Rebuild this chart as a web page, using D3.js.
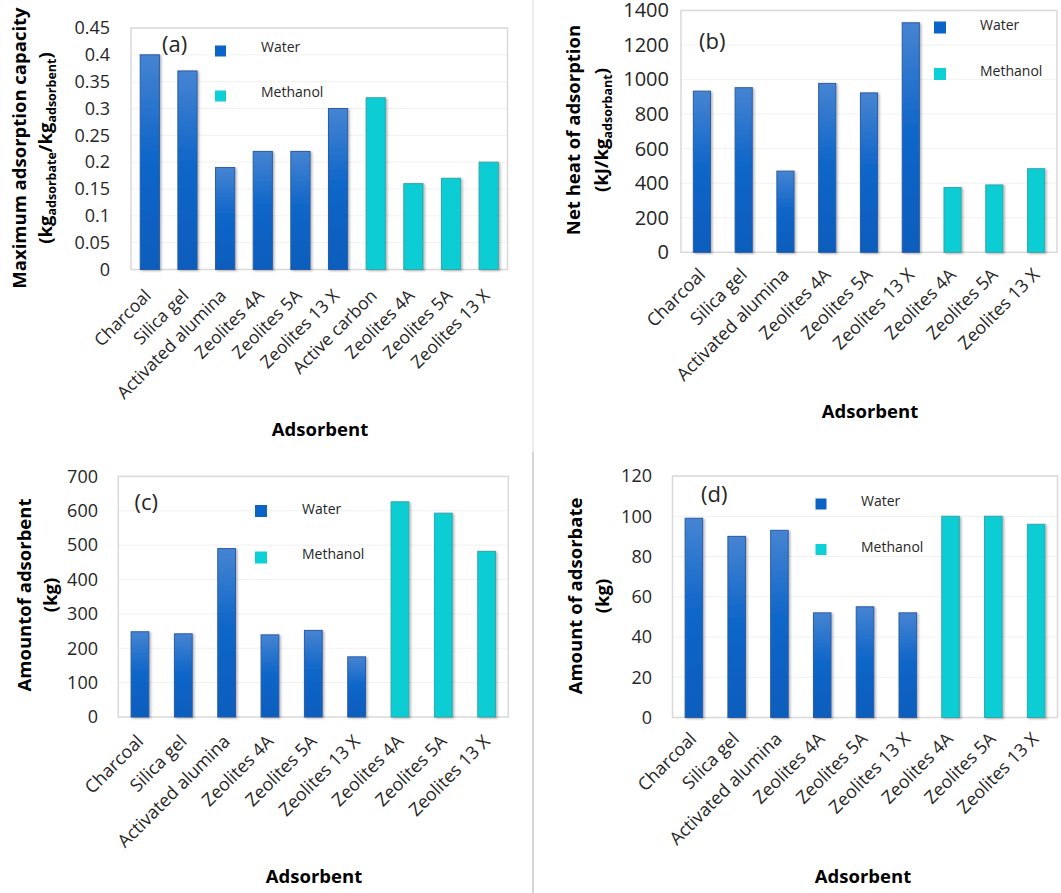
<!DOCTYPE html>
<html>
<head>
<meta charset="utf-8">
<script src="https://cdn.jsdelivr.net/npm/d3@7"></script>
<style>
  html, body { margin: 0; padding: 0; background: #fff; }
  svg { display: block; font-family: "Open Sans", "Noto Sans", sans-serif; }
</style>
</head>
<body>
<svg id="chart" width="1061" height="893"></svg>
<script>
// ---- data ----
const fluids = ["Water", "Methanol"];

// panel (a): maximum adsorption capacity
const capacityCategories = ["Charcoal", "Silica gel", "Activated alumina", "Zeolites 4A", "Zeolites 5A",
  "Zeolites 13 X", "Active carbon", "Zeolites 4A", "Zeolites 5A", "Zeolites 13 X"];
const capacityFluid = ["Water", "Water", "Water", "Water", "Water", "Water",
  "Methanol", "Methanol", "Methanol", "Methanol"];
const capacityValues = [0.40, 0.37, 0.19, 0.22, 0.22, 0.30, 0.32, 0.16, 0.17, 0.20];
const capacityTicks = [0, 0.05, 0.1, 0.15, 0.2, 0.25, 0.3, 0.35, 0.4, 0.45];

// panels (b), (c), (d) share the same adsorbents
const pairCategories = ["Charcoal", "Silica gel", "Activated alumina", "Zeolites 4A", "Zeolites 5A",
  "Zeolites 13 X", "Zeolites 4A", "Zeolites 5A", "Zeolites 13 X"];
const pairFluid = ["Water", "Water", "Water", "Water", "Water", "Water",
  "Methanol", "Methanol", "Methanol"];

const netHeatValues = [933, 953, 470, 978, 923, 1329, 375, 390, 484];
const netHeatTicks = [0, 200, 400, 600, 800, 1000, 1200, 1400];

const adsorbentMassValues = [248, 242, 490, 239, 252, 175, 626, 593, 482];
const adsorbentMassTicks = [0, 100, 200, 300, 400, 500, 600, 700];

const adsorbateMassValues = [99, 90, 93, 52, 55, 52, 100, 100, 96];
const adsorbateMassTicks = [0, 20, 40, 60, 80, 100, 120];

// ---- drawing ----
const svg = d3.select("#chart");
const defs = svg.append("defs");

const waterGrad = defs.append("linearGradient")
  .attr("id", "waterFill").attr("x1", 0).attr("y1", 0).attr("x2", 0).attr("y2", 1);
waterGrad.append("stop").attr("offset", "0%").attr("stop-color", "#4684d2");
waterGrad.append("stop").attr("offset", "45%").attr("stop-color", "#1167c9");
waterGrad.append("stop").attr("offset", "100%").attr("stop-color", "#085dbd");

const shadow = defs.append("filter").attr("id", "barShadow")
  .attr("x", "-30%").attr("y", "-10%").attr("width", "170%").attr("height", "130%");
shadow.append("feDropShadow").attr("dx", 1.5).attr("dy", 1).attr("stdDeviation", 1.3)
  .attr("flood-color", "#000").attr("flood-opacity", 0.3);

const fillFor = f => f === "Water" ? "url(#waterFill)" : "#0ccdd4";
const strokeFor = f => f === "Water" ? "#2b5ca6" : "#33a6aa";
const legendColor = { Water: "#0a63c6", Methanol: "#0dcfd6" };

// panel separator
svg.append("line").attr("x1", 533).attr("x2", 533).attr("y1", 0).attr("y2", 452)
  .attr("stroke", "#e6e6e6").attr("stroke-width", 1.5);
svg.append("line").attr("x1", 533).attr("x2", 533).attr("y1", 452).attr("y2", 893)
  .attr("stroke", "#d6d6d6").attr("stroke-width", 2);

function drawPanel(p) {
  const g = svg.append("g");
  const idx = p.values.map((_, i) => i);
  const x = d3.scaleBand().domain(idx).range([p.x0, p.x1]).padding(0);
  const y = d3.scaleLinear().domain([0, p.ymax]).range([p.y1, p.y0]);

  // gridlines
  g.append("g").selectAll("line").data(p.ticks.slice(1)).join("line")
    .attr("x1", p.x0).attr("x2", p.x1)
    .attr("y1", d => y(d)).attr("y2", d => y(d))
    .attr("stroke", "#f1f1f1").attr("stroke-width", 1);

  // frame
  g.append("rect").attr("x", p.x0).attr("y", p.y0)
    .attr("width", p.x1 - p.x0).attr("height", p.y1 - p.y0)
    .attr("fill", "none").attr("stroke", "#d9d9d9").attr("stroke-width", 1.5);

  // bars
  const bw = x.bandwidth() * p.barRatio;
  g.append("g").selectAll("rect").data(idx).join("rect")
    .attr("x", i => x(i) + (x.bandwidth() - bw) / 2)
    .attr("y", i => y(p.values[i]))
    .attr("width", bw)
    .attr("height", i => y(0) - y(p.values[i]))
    .attr("fill", i => fillFor(p.fluid[i]))
    .attr("stroke", i => strokeFor(p.fluid[i]))
    .attr("stroke-width", 1)
    .attr("filter", "url(#barShadow)");

  // y axis
  const yAxis = d3.axisLeft(y).tickValues(p.ticks).tickFormat(d3.format("~g"))
    .tickSize(0).tickPadding(p.x0 - p.tickRight);
  const ya = g.append("g").attr("transform", `translate(${p.x0},0)`).call(yAxis);
  ya.select(".domain").remove();
  ya.selectAll("text").attr("font-size", p.tickFont).attr("fill", "#262626")
    .attr("font-family", "Open Sans, sans-serif");

  // x axis labels, rotated
  const xAxis = d3.axisBottom(x).tickFormat(i => p.categories[i]).tickSize(0);
  const xa = g.append("g").attr("transform", `translate(0,${p.y1})`).call(xAxis);
  xa.select(".domain").remove();
  xa.selectAll("text")
    .attr("font-size", p.labelFont).attr("fill", "#262626")
    .attr("font-family", "Open Sans, sans-serif")
    .attr("text-anchor", "end")
    .attr("transform", `translate(${p.labelShift[0]},${p.labelShift[1]}) rotate(-45)`)
    .attr("x", 0).attr("y", 0).attr("dy", "0.75em");

  // axis titles
  const yt = g.append("g").attr("font-weight", "bold").attr("font-size", 18.5)
    .attr("fill", "#000").attr("text-anchor", "middle");
  yt.append("text").attr("transform", `translate(${p.title1x},${p.titleY}) rotate(-90)`)
    .attr("dy", "0.35em").text(p.title1);
  const t2 = yt.append("text").attr("transform", `translate(${p.title2x},${p.titleY}) rotate(-90)`)
    .attr("dy", "0.35em");
  let shifted = false;
  p.title2.forEach(part => {
    const s = t2.append("tspan").text(part.t);
    if (part.sub) {
      s.attr("font-size", 12.5);
      if (!shifted) { s.attr("dy", 4); shifted = true; }
    } else if (shifted) {
      s.attr("dy", -4); shifted = false;
    }
  });

  g.append("text").attr("x", p.xTitle[0]).attr("y", p.xTitle[1]).attr("dy", "0.35em")
    .attr("text-anchor", "middle").attr("font-weight", "bold").attr("font-size", 18.5)
    .text("Adsorbent");

  // panel letter
  g.append("text").attr("x", p.letterPos[0]).attr("y", p.letterPos[1]).attr("dy", "0.35em")
    .attr("font-size", 22).attr("fill", "#262626").text(p.letter);

  // legend
  fluids.forEach((f, k) => {
    g.append("rect").attr("x", p.legend.sx).attr("y", p.legend.sy[k])
      .attr("width", p.legend.size).attr("height", p.legend.size)
      .attr("fill", legendColor[f]);
    g.append("text").attr("x", p.legend.tx).attr("y", p.legend.ty[k]).attr("dy", "0.35em")
      .attr("font-size", 14).attr("fill", "#262626").text(f);
  });
}

drawPanel({
  categories: capacityCategories, fluid: capacityFluid, values: capacityValues,
  ticks: capacityTicks, ymax: 0.45,
  x0: 131, x1: 507.5, y0: 28, y1: 269.5, barRatio: 0.51, tickRight: 110,
  tickFont: 18, labelFont: 17.5, labelShift: [-7, 18],
  title1: "Maximum adsorption capacity",
  title2: [{ t: "(kg" }, { t: "adsorbate", sub: true }, { t: "/kg" }, { t: "adsorbent", sub: true }, { t: ")" }],
  title1x: 20, title2x: 46, titleY: 148,
  xTitle: [320, 430], letter: "(a)", letterPos: [162, 44],
  legend: { sx: 215, sy: [45.5, 90.5], size: 11, tx: 261, ty: [47, 92] }
});

drawPanel({
  categories: pairCategories, fluid: pairFluid, values: netHeatValues,
  ticks: netHeatTicks, ymax: 1400,
  x0: 681, x1: 1057, y0: 10.5, y1: 252.3, barRatio: 0.41, tickRight: 669,
  tickFont: 20, labelFont: 18, labelShift: [-5, 14],
  title1: "Net heat of adsorption",
  title2: [{ t: "(kJ/kg" }, { t: "adsorbant", sub: true }, { t: ")" }],
  title1x: 574, title2x: 602, titleY: 130,
  xTitle: [870, 412], letter: "(b)", letterPos: [699, 41],
  legend: { sx: 934, sy: [21.5, 68], size: 12, tx: 980, ty: [25, 71] }
});

drawPanel({
  categories: pairCategories, fluid: pairFluid, values: adsorbentMassValues,
  ticks: adsorbentMassTicks, ymax: 700,
  x0: 118.3, x1: 508.3, y0: 476.4, y1: 717, barRatio: 0.41, tickRight: 98,
  tickFont: 18, labelFont: 18, labelShift: [-5, 16],
  title1: "Amountof adsorbent",
  title2: [{ t: "(kg)" }],
  title1x: 25, title2x: 51, titleY: 595,
  xTitle: [314, 877], letter: "(c)", letterPos: [134.5, 502],
  legend: { sx: 255, sy: [505, 551.5], size: 12, tx: 302, ty: [509, 554] }
});

drawPanel({
  categories: pairCategories, fluid: pairFluid, values: adsorbateMassValues,
  ticks: adsorbateMassTicks, ymax: 120,
  x0: 672.5, x1: 1057.5, y0: 476, y1: 717.5, barRatio: 0.41, tickRight: 652,
  tickFont: 18, labelFont: 18, labelShift: [-6, 13],
  title1: "Amount of adsorbate",
  title2: [{ t: "(kg)" }],
  title1x: 576, title2x: 603, titleY: 596,
  xTitle: [863, 877], letter: "(d)", letterPos: [701, 494],
  legend: { sx: 815.5, sy: [498.5, 544], size: 11, tx: 861, ty: [501, 547.5] }
});
</script>
</body>
</html>
